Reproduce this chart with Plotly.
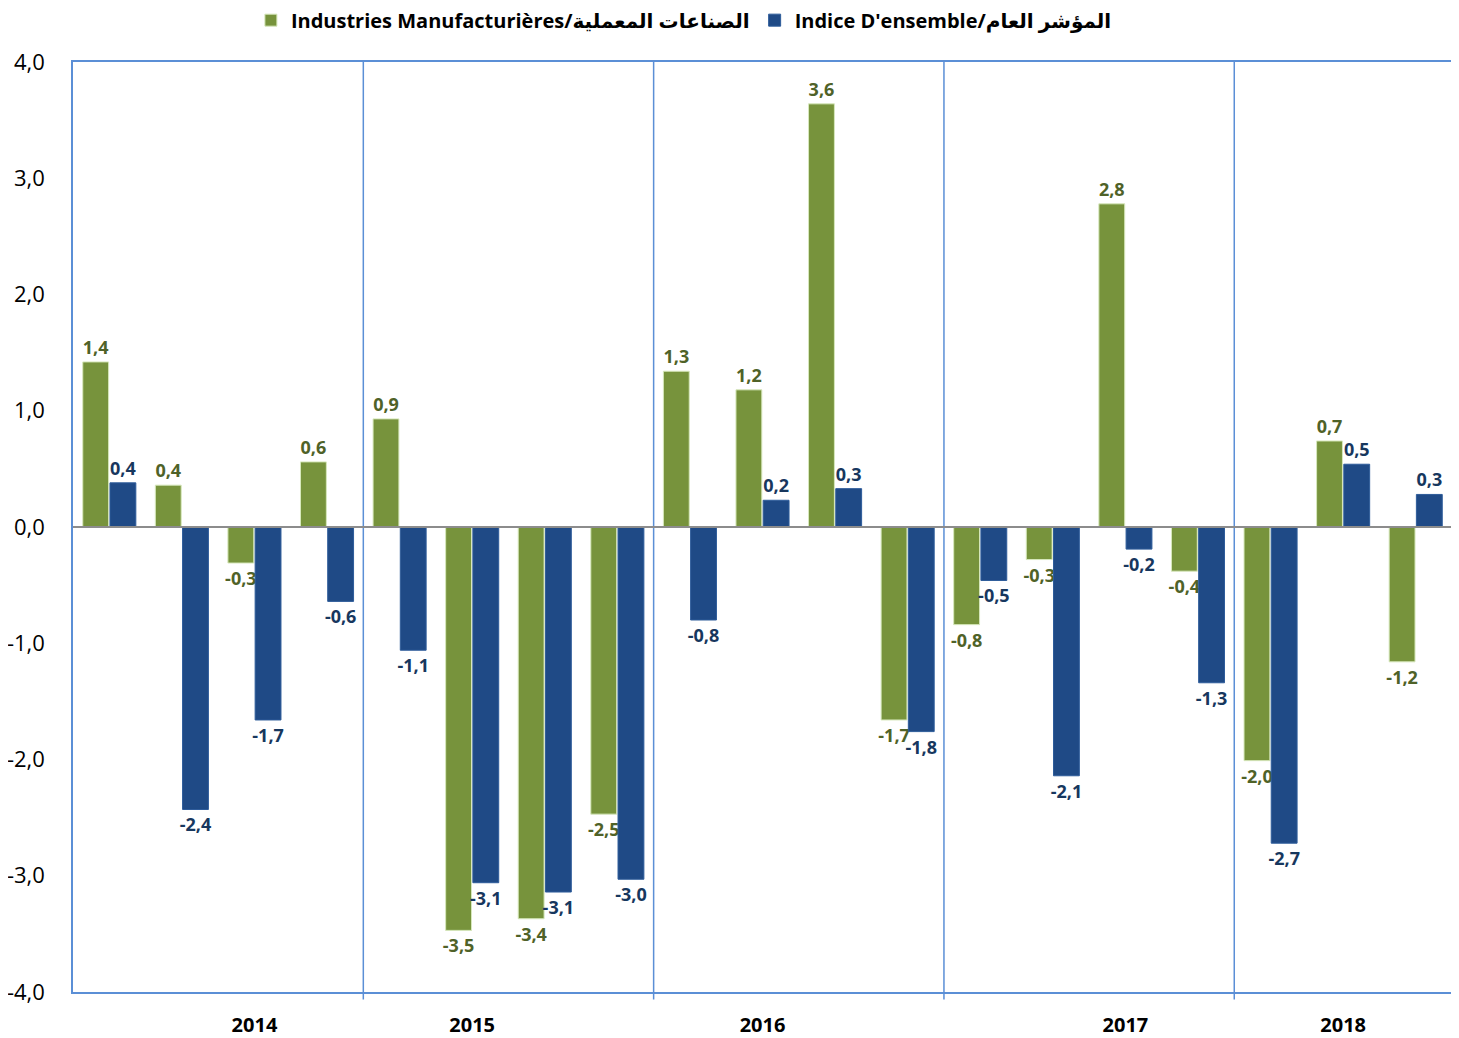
import plotly.graph_objects as go

quarters = ["2014T1", "2014T2", "2014T3", "2014T4",
            "2015T1", "2015T2", "2015T3", "2015T4",
            "2016T1", "2016T2", "2016T3", "2016T4",
            "2017T1", "2017T2", "2017T3", "2017T4",
            "2018T1", "2018T2", "2018T3"]
industries = [1.42, 0.36, -0.31, 0.56,
              0.93, -3.47, -3.37, -2.47,
              1.34, 1.18, 3.64, -1.66,
              -0.84, -0.28, 2.78, -0.38,
              -2.01, 0.74, -1.16]
ensemble = [0.38, -2.43, -1.66, -0.64,
            -1.06, -3.06, -3.14, -3.03,
            -0.80, 0.23, 0.33, -1.76,
            -0.46, -2.14, -0.19, -1.34,
            -2.72, 0.54, 0.28]
year_tick_cats = ["2014T3", "2015T2", "2016T2", "2017T3", "2018T2"]
year_labels = ["2014", "2015", "2016", "2017", "2018"]
y_ticks = [4, 3, 2, 1, 0, -1, -2, -3, -4]
y_tick_labels = ["4,0", "3,0", "2,0", "1,0", "0,0", "-1,0", "-2,0", "-3,0", "-4,0"]
separators = [3.5, 7.5, 11.5, 15.5]

name_ind = "Industries Manufacturières/الصناعات المعملية"
name_ens = "Indice D'ensemble/المؤشر العام"

def fmt(v):
    return f"{v:.1f}".replace(".", ",")

label_font = "Open Sans, Liberation Sans, sans-serif"

fig = go.Figure()
fig.add_trace(go.Bar(
    x=quarters, y=industries, name=name_ind,
    marker=dict(color="#77933C", line=dict(color="#D7E8BC", width=1)),
    text=[fmt(v) for v in industries], textposition="outside",
    textfont=dict(family=label_font, size=18, color="#4F6228", weight="bold"),
    constraintext="none", cliponaxis=False,
))
fig.add_trace(go.Bar(
    x=quarters, y=ensemble, name=name_ens,
    marker=dict(color="#1F4A86", line=dict(color="#2E5C9A", width=1)),
    text=[fmt(v) for v in ensemble], textposition="outside",
    textfont=dict(family=label_font, size=18, color="#17375E", weight="bold"),
    constraintext="none", cliponaxis=False,
))

shapes = []
for s in separators:
    shapes.append(dict(type="line", xref="x", yref="paper", x0=s, x1=s, y0=-0.008, y1=1,
                       line=dict(color="#5B8FD6", width=1.5)))
shapes.append(dict(type="line", xref="paper", yref="y", x0=0, x1=1, y0=0, y1=0,
                   line=dict(color="#8C8C8C", width=2), layer="above"))
fig.update_layout(
    width=1451, height=1030,
    margin=dict(l=65, r=7, t=54, b=46, autoexpand=False),
    paper_bgcolor="white", plot_bgcolor="white",
    barmode="group", bargap=0.25, bargroupgap=0.05,
    font=dict(family="Open Sans, Liberation Sans, sans-serif", color="black"),
    showlegend=True,
    legend=dict(orientation="h", xref="paper", x=0.443, xanchor="center",
                yref="paper", y=1.045, yanchor="middle",
                font=dict(size=20, family="Open Sans, DejaVu Sans, sans-serif", weight="bold"),
                itemwidth=30, traceorder="normal"),
    shapes=shapes,
)
fig.update_xaxes(
    type="category", range=[-0.5, len(quarters) - 0.5], automargin=False,
    tickmode="array", tickvals=year_tick_cats, ticktext=year_labels,
    tickfont=dict(size=20, weight="bold"), ticks="", showgrid=False,
    ticklabelstandoff=14,
    showline=True, linecolor="#5B8FD6", linewidth=1.5, mirror=True,
)
fig.update_yaxes(
    range=[-4, 4], tickmode="array", tickvals=y_ticks, ticktext=y_tick_labels,
    automargin=False, ticklabelstandoff=22,
    tickfont=dict(size=22), ticks="", showgrid=False, zeroline=False,
    showline=True, linecolor="#5B8FD6", linewidth=1.5, mirror=True,
)
fig.write_html("out.html")
